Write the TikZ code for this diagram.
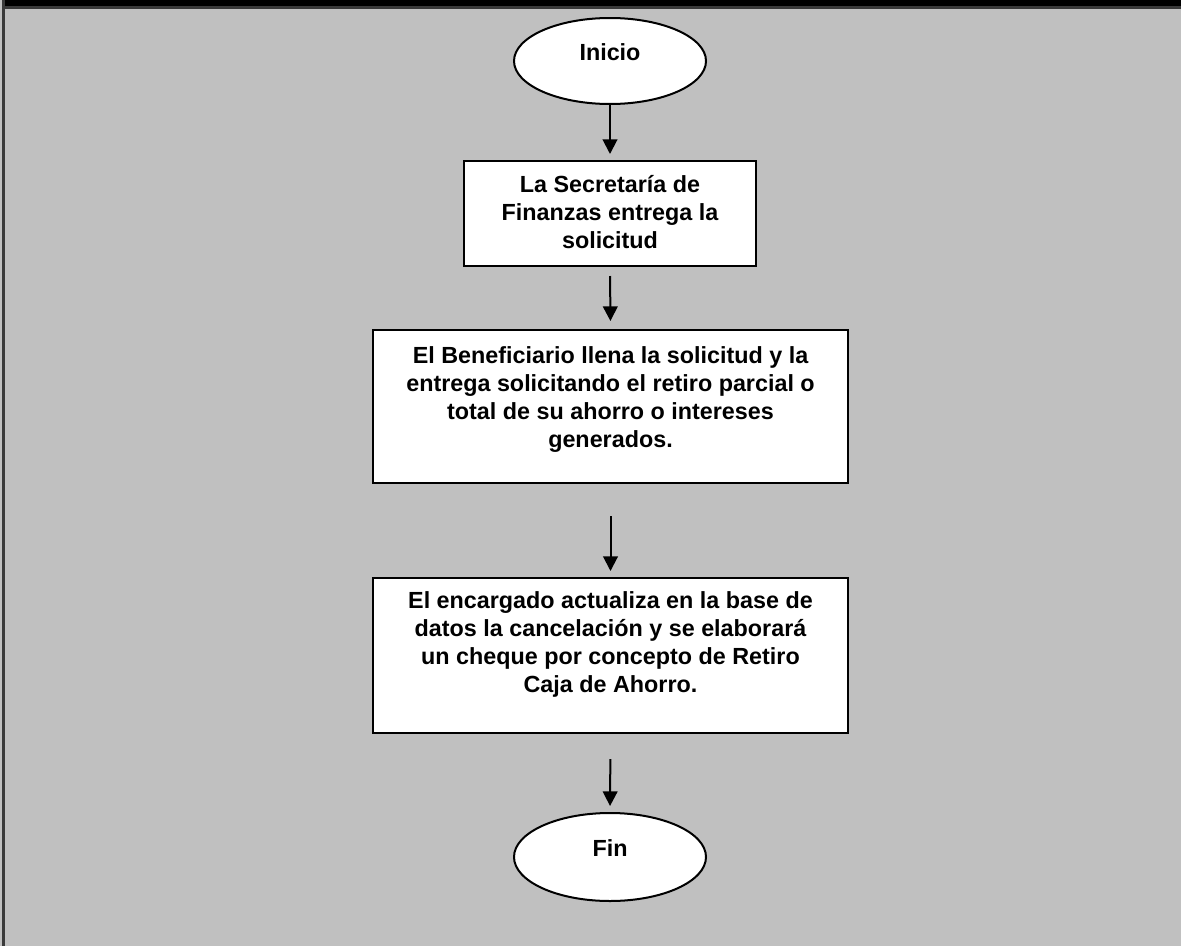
\documentclass[tikz,border=0pt]{standalone}
\usepackage{fontspec}
\setmainfont{Liberation Sans}
\usetikzlibrary{shapes.geometric,arrows.meta}
\definecolor{panel}{HTML}{C0C0C0}
\definecolor{frame}{HTML}{3A3A3A}
\tikzset{
  terminal/.style={ellipse, draw=black, line width=1.5pt, fill=white,
    minimum width=144pt, inner sep=0pt},
  stepbox/.style={rectangle, draw=black, line width=1.5pt, fill=white, inner sep=0pt},
  label text/.style={inner sep=0pt, align=center,
    font=\bfseries\fontsize{17.5pt}{21pt}\selectfont},
  flow/.style={line width=1.5pt, -{Triangle[width=11pt,length=11pt]}},
}
\begin{document}
% coordinates are given in pixels, y growing downwards
\begin{tikzpicture}[x=0.75pt, y=-0.75pt]
  \useasboundingbox (0,0) rectangle (1181,946);
  % panel and its frame
  \fill[panel] (0,0) rectangle (1181,946);
  \fill[frame] (2,0) rectangle (5,946);
  \fill[black] (5,0) rectangle (1181,6);
  \fill[frame] (5,6) rectangle (1181,9.3);

  % shapes
  \node[terminal, minimum height=64.5pt] (start) at (610,61) {};
  \node[stepbox, minimum width=219pt, minimum height=78.75pt] (b1) at (610,213.5) {};
  \node[stepbox, minimum width=356.25pt, minimum height=114.75pt] (b2) at (610.5,406.5) {};
  \node[stepbox, minimum width=356.25pt, minimum height=116.25pt] (b3) at (610.5,655.5) {};
  \node[terminal, minimum height=66pt] (end) at (610,857) {};

  % texts
  \node[label text] (tstart) at ([yshift=6.75pt]start.center) {Inicio};
  \node[label text] (t1) at ([yshift=1pt]b1.center)
    {La Secretaría de\\Finanzas entrega la\\solicitud};
  \node[label text] (t2) at ([yshift=4.9pt]b2.center)
    {El Beneficiario llena la solicitud y la\\entrega solicitando el retiro parcial o\\total de su ahorro o intereses\\generados.};
  \node[label text] (t3) at ([yshift=8.6pt]b3.center)
    {El encargado actualiza en la base de\\datos la cancelación y se elaborará\\un cheque por concepto de Retiro\\Caja de Ahorro.};
  \node[label text] (tend) at ([yshift=6.75pt]end.center) {Fin};

  % connectors
  \draw[flow, shorten >=4.5pt] (start.south) -- (b1.north);
  \draw[flow, shorten <=6.75pt, shorten >=6pt] (b1.south) -- (b2.north);
  \draw[flow, shorten <=24pt, shorten >=4.5pt] (b2.south) -- (b3.north);
  \draw[flow, shorten <=18.75pt, shorten >=4.5pt] (b3.south) -- (end.north);
\end{tikzpicture}
\end{document}
